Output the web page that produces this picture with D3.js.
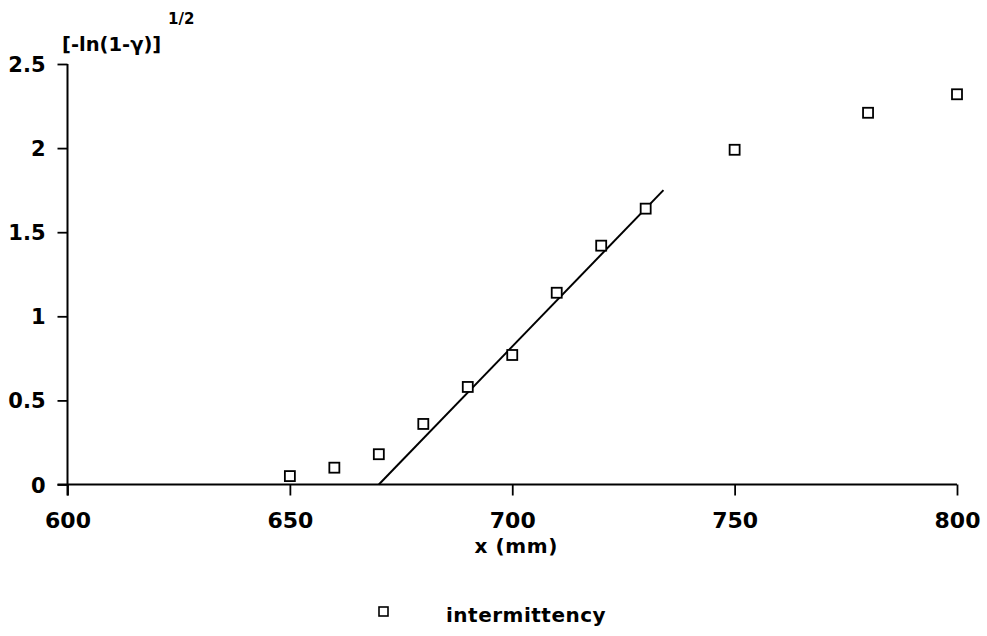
<!DOCTYPE html>
<html>
<head>
<meta charset="utf-8">
<script src="https://cdn.jsdelivr.net/npm/d3@7"></script>
<style>
  html, body { margin: 0; padding: 0; background: #fff; }
  svg text { font-family: "DejaVu Sans", sans-serif; fill: #000; }
</style>
</head>
<body>
<svg id="chart" width="987" height="636"></svg>
<script>
// Measured positions (mm) and transformed intermittency values
const xPositions = [650, 660, 670, 680, 690, 700, 710, 720, 730, 750, 780, 800];
const gammaValues = [0.05, 0.10, 0.18, 0.36, 0.58, 0.77, 1.14, 1.42, 1.64, 1.99, 2.21, 2.32];

// Straight-line fit through the linear region
const fitX = [670, 734];
const fitY = [0, 1.75];

const xTicks = [600, 650, 700, 750, 800];
const yTicks = [0, 0.5, 1, 1.5, 2, 2.5];
const yTickLabels = ["0", "0.5", "1", "1.5", "2", "2.5"];

const svg = d3.select("#chart");
const plotLeft = 67.5, plotRight = 957, plotTop = 64, plotBottom = 484.5;

const x = d3.scaleLinear().domain([600, 800]).range([plotLeft, plotRight]);
const y = d3.scaleLinear().domain([0, 2.5]).range([plotBottom, plotTop]);

// x axis: baseline running left to the y tick position, ticks pointing down
const xAxis = svg.append("g").attr("transform", `translate(0,${plotBottom})`)
  .call(d3.axisBottom(x).tickValues(xTicks).tickSize(11)
        .tickFormat(d3.format("d")));
xAxis.select(".domain").remove();
xAxis.append("line").attr("x1", plotLeft - 10).attr("x2", plotRight).attr("y1", 0).attr("y2", 0)
  .attr("stroke", "#000").attr("stroke-width", 2);
xAxis.selectAll(".tick line").attr("stroke", "#000").attr("stroke-width", 1.8);
xAxis.selectAll(".tick text").attr("font-size", 22).attr("font-weight", "bold")
  .attr("y", 527.5 - plotBottom).attr("dy", 0);

// y axis: ticks pointing left
const yAxis = svg.append("g").attr("transform", `translate(${plotLeft},0)`)
  .call(d3.axisLeft(y).tickValues(yTicks).tickSize(10).tickPadding(12)
        .tickFormat((d, i) => yTickLabels[i]));
yAxis.select(".domain").remove();
yAxis.append("line").attr("x1", 0).attr("x2", 0).attr("y1", plotTop).attr("y2", plotBottom + 11)
  .attr("stroke", "#000").attr("stroke-width", 2);
yAxis.selectAll(".tick line").attr("stroke", "#000").attr("stroke-width", 1.8);
yAxis.selectAll(".tick text").attr("font-size", 21).attr("font-weight", "bold").attr("dy", "0.36em");

// y axis title with superscript
svg.append("text").attr("x", 62).attr("y", 51)
  .attr("font-size", 19.5).attr("font-weight", "bold").text("[-ln(1-γ)]");
svg.append("text").attr("x", 168).attr("y", 24).attr("font-size", 15)
  .attr("font-weight", "bold").text("1/2");

// x axis title
svg.append("text").attr("x", x(700) + 4).attr("y", 553).attr("text-anchor", "middle")
  .attr("font-size", 20).attr("font-weight", "bold").attr("letter-spacing", 0.6).text("x (mm)");

// fitted line
svg.append("line")
  .attr("x1", x(fitX[0])).attr("y1", y(fitY[0]))
  .attr("x2", x(fitX[1])).attr("y2", y(fitY[1]))
  .attr("stroke", "#000").attr("stroke-width", 2);

// data markers
const s = 10;
svg.append("g").selectAll("rect").data(xPositions).join("rect")
  .attr("x", (d) => x(d) - s / 2)
  .attr("y", (d, i) => y(gammaValues[i]) - s / 2)
  .attr("width", s).attr("height", s)
  .attr("fill", "#fff").attr("stroke", "#000").attr("stroke-width", 1.8);

// legend
svg.append("rect").attr("x", 379).attr("y", 607).attr("width", 9).attr("height", 9)
  .attr("fill", "#fff").attr("stroke", "#000").attr("stroke-width", 1.6);
svg.append("text").attr("x", 446).attr("y", 622).attr("font-size", 20)
  .attr("font-weight", "bold").attr("letter-spacing", 0.5).text("intermittency");
</script>
</body>
</html>
